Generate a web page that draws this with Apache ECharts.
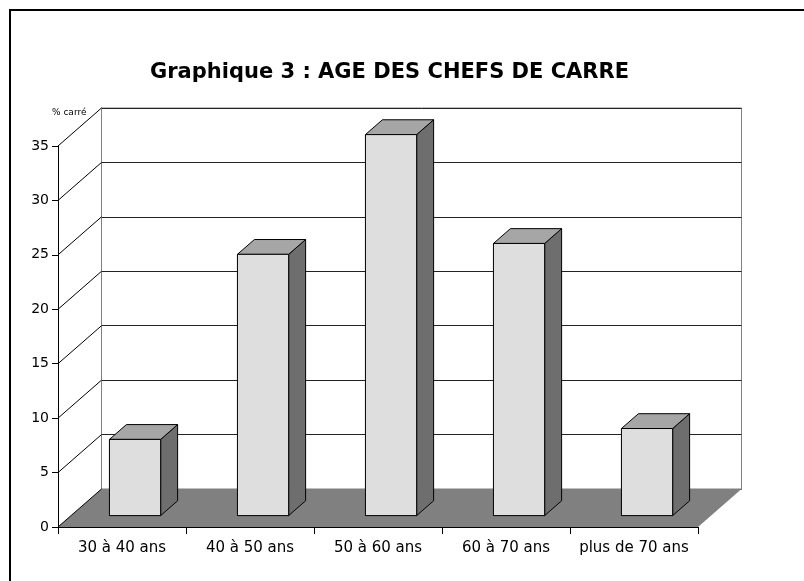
<!DOCTYPE html>
<html>
<head>
<meta charset="utf-8">
<script src="https://cdn.jsdelivr.net/npm/echarts@6/dist/echarts.min.js"></script>
<style>
  html, body { margin: 0; padding: 0; background: #fff; }
  #main { width: 804px; height: 581px; }
</style>
</head>
<body>
<div id="main"></div>
<script>
// data
var categories = ['30 à 40 ans', '40 à 50 ans', '50 à 60 ans', '60 à 70 ans', 'plus de 70 ans'];
var percents = [7, 24, 35, 25, 8];
var yTicks = [0, 5, 10, 15, 20, 25, 30, 35];

// depth of the 3D box (pixels), front grid -> back wall
var DX = 43.5;
var DY = -38;
var FRONT = 0.3;   // bar front face, fraction of depth
var DEPTH = 0.39;  // bar depth, fraction of depth

var chartDom = document.getElementById('main');
var myChart = echarts.init(chartDom, null, { renderer: 'canvas' });
var option;

var yMin = yTicks[0];
var yMax = yTicks[yTicks.length - 1];
var yStep = yTicks[1] - yTicks[0];

option = {
  animation: false,
  backgroundColor: '#fff',
  title: {
    text: 'Graphique 3 : AGE DES CHEFS DE CARRE',
    left: 145,
    top: 57,
    textStyle: {
      fontFamily: 'DejaVu Sans',
      fontWeight: 'bold',
      fontSize: 21,
      color: '#000'
    }
  },
  graphic: [{
    type: 'rect',
    shape: { x: 10, y: 10, width: 900, height: 700 },
    style: { fill: 'none', stroke: '#000', lineWidth: 2 },
    silent: true
  }],
  grid: [
    { left: 58, top: 146, width: 640, height: 381 },
    {
      left: 58 + DX, top: 146 + DY, width: 640, height: 381,
      show: true, borderColor: '#808080', borderWidth: 1, backgroundColor: 'transparent'
    }
  ],
  xAxis: [
    {
      type: 'category',
      gridIndex: 0,
      data: categories,
      axisLine: { lineStyle: { color: '#000', width: 1 } },
      axisTick: { show: true, interval: 0, length: 7, lineStyle: { color: '#000' } },
      axisLabel: { interval: 0, color: '#000', fontFamily: 'DejaVu Sans', fontSize: 15, margin: 14 }
    },
    { type: 'value', gridIndex: 1, show: false, min: 0, max: 1 }
  ],
  yAxis: [
    {
      type: 'value',
      gridIndex: 0,
      min: yMin, max: yMax, interval: yStep,
      name: '% carré',
      nameLocation: 'end',
      nameGap: 29,
      nameTextStyle: { fontFamily: 'DejaVu Sans', fontSize: 9, color: '#000', align: 'left', padding: [0, 0, 0, -6] },
      axisLine: { show: true, lineStyle: { color: '#000', width: 1 } },
      axisTick: { show: true, length: 6, lineStyle: { color: '#000' } },
      axisLabel: { color: '#000', fontFamily: 'DejaVu Sans', fontSize: 14, margin: 9 },
      splitLine: { show: false }
    },
    {
      type: 'value',
      gridIndex: 1,
      min: yMin, max: yMax, interval: yStep,
      axisLine: { show: true, lineStyle: { color: '#808080' } },
      axisTick: { show: false },
      axisLabel: { show: false },
      splitLine: { show: true, lineStyle: { color: '#222', width: 1 } }
    }
  ],
  series: [
    {
      // floor
      type: 'custom',
      xAxisIndex: 0, yAxisIndex: 0,
      silent: true,
      z: 1,
      data: [[0, 0]],
      renderItem: function (params, api) {
        var cs = params.coordSys;
        var y0 = api.coord([0, yMin])[1];
        var xl = cs.x, xr = cs.x + cs.width;
        return {
          type: 'polygon',
          shape: { points: [[xl, y0], [xr, y0], [xr + DX, y0 + DY], [xl + DX, y0 + DY]] },
          style: { fill: '#808080', stroke: 'none' }
        };
      }
    },
    {
      // diagonals from the front axis to the back wall
      type: 'custom',
      xAxisIndex: 0, yAxisIndex: 0,
      silent: true,
      z: 2,
      data: yTicks.map(function (t) { return [0, t]; }),
      renderItem: function (params, api) {
        var cs = params.coordSys;
        var y = api.coord([0, api.value(1)])[1];
        return {
          type: 'line',
          shape: { x1: cs.x, y1: y, x2: cs.x + DX, y2: y + DY },
          style: { stroke: '#000', lineWidth: 1 }
        };
      }
    },
    {
      // 3D bars
      type: 'custom',
      xAxisIndex: 0, yAxisIndex: 0,
      z: 3,
      data: percents.map(function (v, i) { return [i, v]; }),
      encode: { x: 0, y: 1 },
      renderItem: function (params, api) {
        var i = api.value(0), v = api.value(1);
        var base = api.coord([i, 0]);
        var top = api.coord([i, v]);
        var band = api.size([1, 0])[0];
        var w = band * 0.4;
        var x0 = base[0] - w / 2 + DX * FRONT;
        var x1 = x0 + w;
        var yb = base[1] + DY * FRONT;
        var yt = top[1] + DY * FRONT;
        var ddx = DX * DEPTH, ddy = DY * DEPTH;
        var edge = { stroke: '#000', lineWidth: 1, lineJoin: 'round' };
        return {
          type: 'group',
          children: [
            {
              type: 'polygon',
              shape: { points: [[x1, yt], [x1 + ddx, yt + ddy], [x1 + ddx, yb + ddy], [x1, yb]] },
              style: Object.assign({ fill: '#6e6e6e' }, edge)
            },
            {
              type: 'polygon',
              shape: { points: [[x0, yt], [x0 + ddx, yt + ddy], [x1 + ddx, yt + ddy], [x1, yt]] },
              style: Object.assign({ fill: '#a6a6a6' }, edge)
            },
            {
              type: 'polygon',
              shape: { points: [[x0, yt], [x1, yt], [x1, yb], [x0, yb]] },
              style: Object.assign({ fill: '#dedede' }, edge)
            }
          ]
        };
      }
    }
  ]
};

option && myChart.setOption(option);
</script>
</body>
</html>
